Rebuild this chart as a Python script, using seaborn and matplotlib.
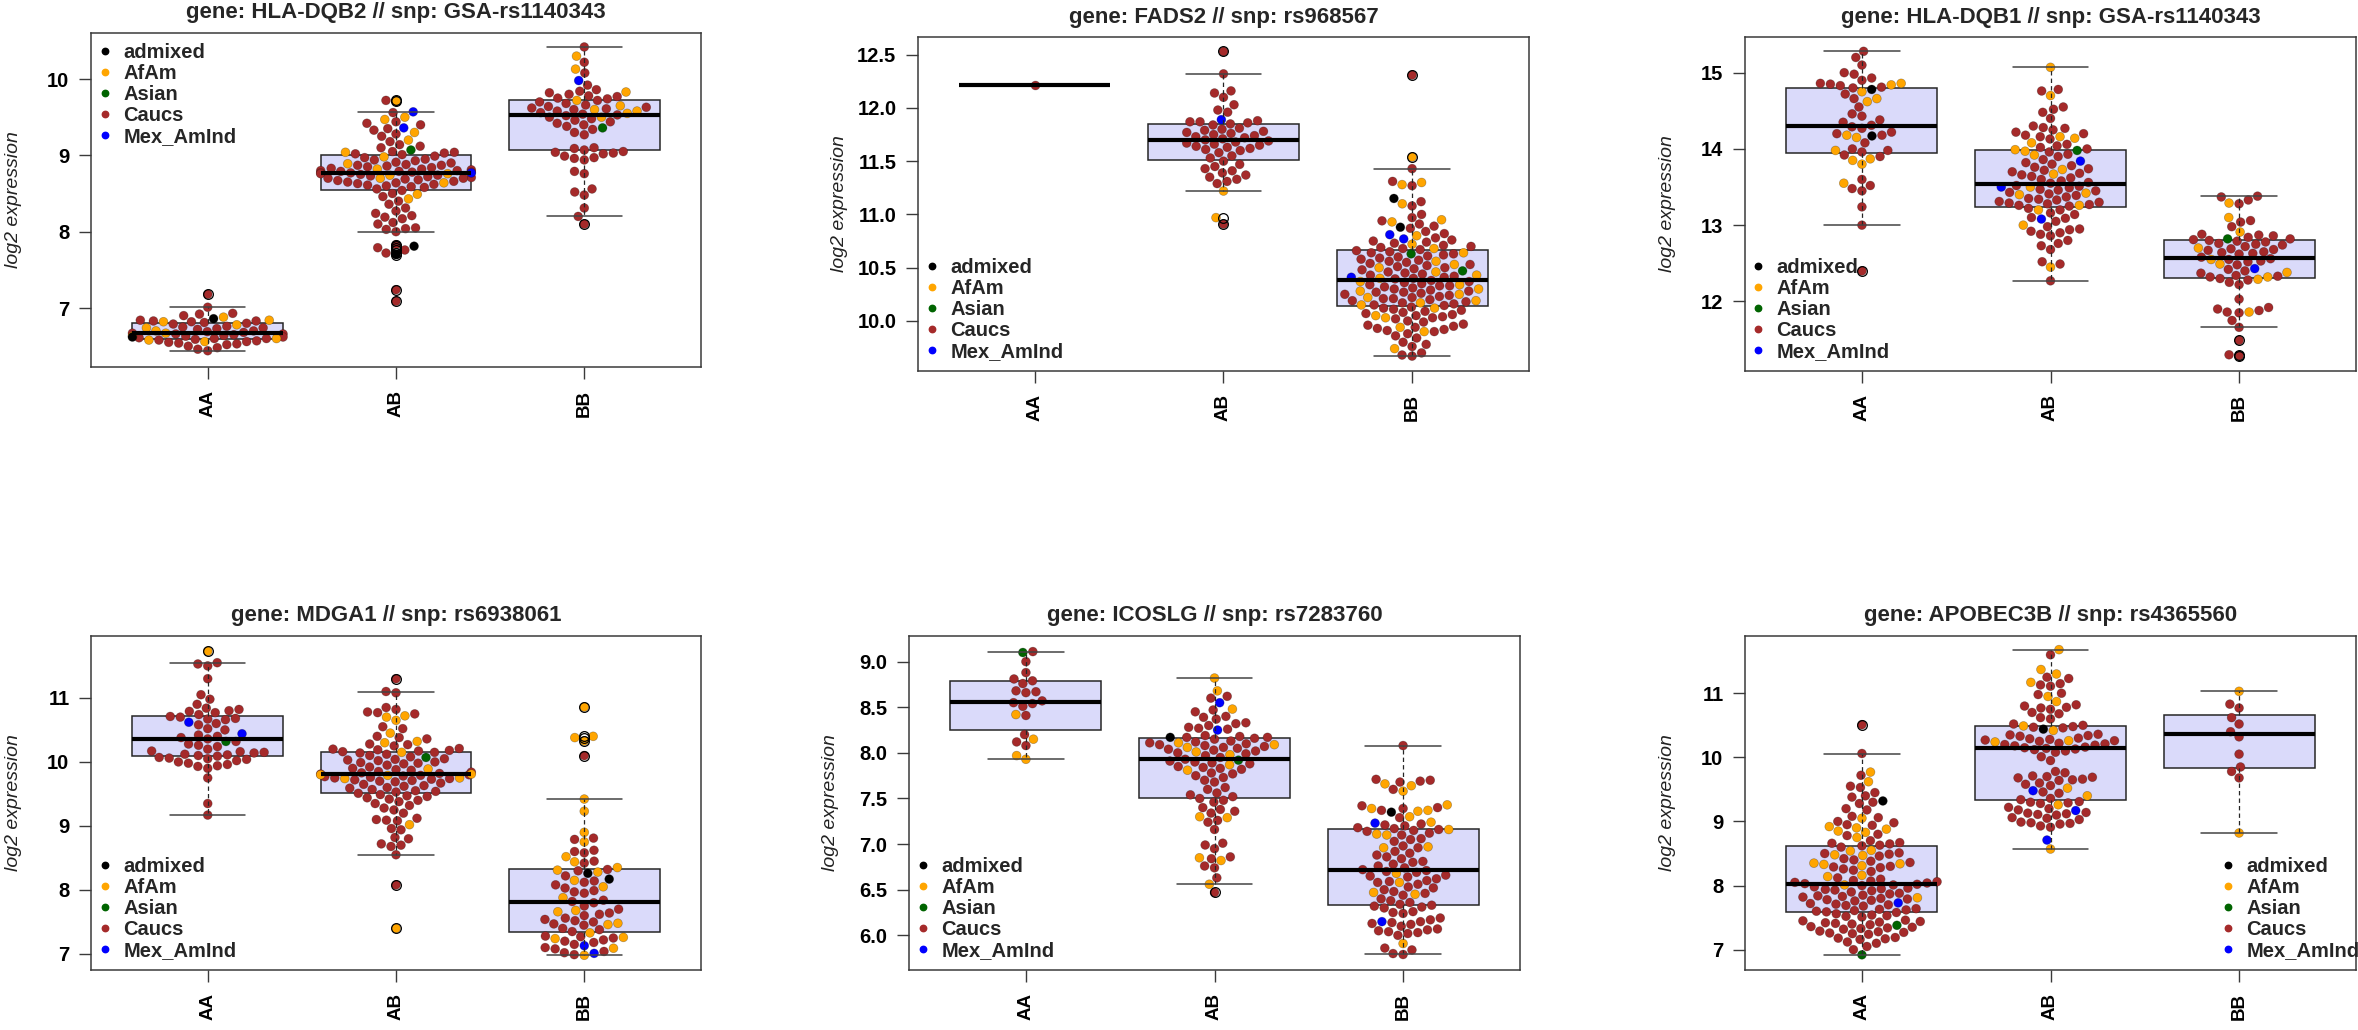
import numpy as np
import pandas as pd
import matplotlib
matplotlib.use("Agg")
import matplotlib.pyplot as plt
from matplotlib.lines import Line2D
import seaborn as sns

sns.set_theme(style="white")
plt.rcParams['font.family'] = ['Liberation Sans', 'DejaVu Sans']

# ---------------- data ----------------
GENOTYPES = ["AA", "AB", "BB"]
POPS = ["admixed", "AfAm", "Asian", "Caucs", "Mex_AmInd"]
POP_COLORS = {"admixed": "#000000", "AfAm": "#FFA500", "Asian": "#006400",
              "Caucs": "#A52A2A", "Mex_AmInd": "#0000FF"}

# Panel 1: HLA-DQB2 // GSA-rs1140343
HLA_DQB2_AA = {
    "Caucs": [7.18, 7.01, 6.93, 6.92, 6.90, 6.84, 6.83, 6.83, 6.82, 6.81, 6.80, 6.79, 6.76, 6.75, 6.74, 6.73,
              6.72, 6.70, 6.69, 6.68, 6.67, 6.66, 6.66, 6.65, 6.64, 6.63, 6.62, 6.61, 6.60, 6.60, 6.59, 6.58,
              6.57, 6.56, 6.55, 6.54, 6.53, 6.52, 6.50, 6.48, 6.46, 6.44],
    "AfAm": [6.88, 6.84, 6.82, 6.78, 6.74, 6.70, 6.67, 6.63, 6.60, 6.58, 6.56],
    "admixed": [6.86, 6.62],
}
HLA_DQB2_AB = {
    "Caucs": [9.72, 9.56, 9.44, 9.42, 9.40, 9.35, 9.33, 9.28, 9.25, 9.18, 9.14, 9.12, 9.10, 9.05, 9.04, 9.03,
              9.02, 9.01, 8.99, 8.97, 8.95, 8.94, 8.93, 8.91, 8.90, 8.88, 8.87, 8.87, 8.86, 8.85, 8.84, 8.83,
              8.82, 8.81, 8.80, 8.80, 8.79, 8.79, 8.78, 8.78, 8.77, 8.77, 8.76, 8.75, 8.74, 8.73, 8.72, 8.71,
              8.70, 8.70, 8.69, 8.68, 8.67, 8.66, 8.65, 8.64, 8.63, 8.62, 8.61, 8.60, 8.59, 8.58, 8.56, 8.54,
              8.50, 8.46, 8.40, 8.36, 8.31, 8.27, 8.24, 8.21, 8.19, 8.17, 8.12, 8.10, 8.05, 8.04, 8.03, 8.00,
              7.83, 7.79, 7.76, 7.72, 7.24, 7.09],
    "AfAm": [9.71, 9.50, 9.47, 9.30, 9.20, 9.04, 8.98, 8.89, 8.82, 8.76, 8.74, 8.70, 8.64, 8.49, 8.43],
    "Asian": [9.07],
    "Mex_AmInd": [9.57, 9.36, 8.77],
    "admixed": [7.81, 7.70],
}
HLA_DQB2_BB = {
    "Caucs": [10.42, 10.22, 10.08, 9.92, 9.86, 9.84, 9.82, 9.80, 9.78, 9.77, 9.75, 9.74, 9.72, 9.70, 9.68,
              9.66, 9.64, 9.63, 9.62, 9.61, 9.60, 9.58, 9.56, 9.54, 9.53, 9.52, 9.50, 9.48, 9.46, 9.44, 9.42,
              9.40, 9.38, 9.34, 9.30, 9.27, 9.10, 9.09, 9.07, 9.05, 9.04, 9.03, 9.02, 8.99, 8.97, 8.96, 8.94,
              8.79, 8.76, 8.56, 8.52, 8.48, 8.31, 8.20, 8.10],
    "AfAm": [10.30, 10.13, 9.83, 9.72, 9.65, 9.60, 9.58, 9.55, 9.50],
    "Asian": [9.36],
    "Mex_AmInd": [9.98],
}
HLA_DQB2_TICKS = [7, 8, 9, 10]

# Panel 2: FADS2 // rs968567
FADS2_AA = {"Caucs": [12.22]}
FADS2_AB = {
    "Caucs": [12.53, 12.32, 12.16, 12.14, 12.10, 12.03, 11.98, 11.96, 11.88, 11.87, 11.87, 11.86, 11.85, 11.84,
              11.81, 11.80, 11.79, 11.78, 11.77, 11.76, 11.75, 11.74, 11.73, 11.72, 11.71, 11.70, 11.69, 11.68,
              11.67, 11.66, 11.65, 11.64, 11.63, 11.62, 11.61, 11.60, 11.58, 11.55, 11.53, 11.50, 11.47, 11.45,
              11.43, 11.41, 11.39, 11.37, 11.35, 11.33, 11.31, 11.29, 10.91],
    "AfAm": [11.22, 10.97],
    "Mex_AmInd": [11.89],
}
FADS2_BB = {
    "Caucs": [12.31, 11.43, 11.31, 11.27, 11.12, 11.08, 11.00, 10.97, 10.94, 10.91, 10.89, 10.87, 10.84, 10.82,
              10.78, 10.76, 10.75, 10.74, 10.73, 10.71, 10.70, 10.69, 10.68, 10.67,
              10.66, 10.65, 10.64, 10.63, 10.62, 10.61, 10.60, 10.59, 10.58, 10.57, 10.56, 10.55, 10.54, 10.53,
              10.52, 10.51, 10.50, 10.49, 10.48, 10.46, 10.45, 10.44, 10.43, 10.42, 10.41, 10.40, 10.395,
              10.38, 10.37, 10.36, 10.35, 10.34, 10.33, 10.33, 10.32, 10.31, 10.30, 10.29, 10.28, 10.27, 10.27,
              10.26, 10.25, 10.24, 10.23, 10.22, 10.21, 10.21, 10.20, 10.19, 10.18, 10.17, 10.16, 10.15, 10.145,
              10.13, 10.12, 10.11, 10.10, 10.09, 10.08, 10.07, 10.06, 10.05, 10.04, 10.03, 10.02, 10.00, 9.99,
              9.97, 9.96, 9.95, 9.94, 9.93, 9.92, 9.91, 9.90, 9.88, 9.86, 9.84, 9.80, 9.78, 9.76, 9.70, 9.68, 9.67],
    "AfAm": [11.54, 11.30, 11.28, 11.10, 10.95, 10.93, 10.80, 10.72, 10.68, 10.64, 10.56, 10.53, 10.50, 10.46,
             10.43, 10.40, 10.37, 10.34, 10.30, 10.28, 10.25, 10.22, 10.19, 10.17, 10.15, 10.12, 10.05, 10.03,
             9.94, 9.90, 9.74],
    "admixed": [11.15, 10.88],
    "Asian": [10.63, 10.47],
    "Mex_AmInd": [10.81, 10.77, 10.41],
}
FADS2_TICKS = [10.0, 10.5, 11.0, 11.5, 12.0, 12.5]

# Panel 3: HLA-DQB1 // GSA-rs1140343
HLA_DQB1_AA = {
    "Caucs": [15.28, 15.20, 15.10, 15.00, 14.98, 14.93, 14.90, 14.86, 14.85, 14.83, 14.81, 14.80, 14.72, 14.66,
              14.55, 14.46, 14.43, 14.38, 14.35, 14.31, 14.29, 14.27, 14.22, 14.20, 14.18, 14.08, 14.00, 13.98,
              13.96, 13.92, 13.90, 13.60, 13.52, 13.48, 13.45, 13.24, 13.00, 12.40],
    "AfAm": [14.86, 14.84, 14.75, 14.66, 14.62, 14.18, 14.15, 13.98, 13.87, 13.85, 13.80, 13.55],
    "admixed": [14.78, 14.17],
}
HLA_DQB1_AB = {
    "Caucs": [14.78, 14.76, 14.55, 14.52, 14.48, 14.40, 14.30, 14.28, 14.27, 14.25, 14.22, 14.20, 14.18, 14.16,
              14.13, 14.06, 14.04, 14.02, 14.00, 13.96, 13.93, 13.90, 13.86, 13.82, 13.80, 13.78, 13.76, 13.74,
              13.72, 13.70, 13.68, 13.66, 13.64, 13.62, 13.60, 13.58, 13.56, 13.55, 13.52, 13.51, 13.49, 13.47,
              13.46, 13.45, 13.43, 13.41, 13.39, 13.37, 13.35, 13.34, 13.33, 13.31, 13.30, 13.29, 13.28, 13.27,
              13.26, 13.25, 13.22, 13.20, 13.16, 13.14, 13.10, 13.09, 13.05, 12.98, 12.95, 12.94, 12.92, 12.90,
              12.88, 12.86, 12.80, 12.76, 12.73, 12.68, 12.52, 12.49, 12.27],
    "AfAm": [15.07, 14.70, 14.16, 14.14, 14.08, 13.99, 13.97, 13.92, 13.73, 13.67, 13.50, 13.42, 13.40, 13.26,
             13.20, 13.00, 12.45],
    "Asian": [13.98],
    "Mex_AmInd": [13.84, 13.50, 13.08],
}
HLA_DQB1_BB = {
    "Caucs": [13.38, 13.37, 13.33, 13.28, 13.06, 13.04, 12.98, 12.88, 12.87, 12.86, 12.84, 12.82, 12.81, 12.80,
              12.79, 12.78, 12.76, 12.75, 12.74, 12.72, 12.69, 12.68, 12.67, 12.65, 12.64, 12.63, 12.62, 12.58,
              12.56, 12.55, 12.53, 12.52, 12.48, 12.42, 12.40, 12.37, 12.34, 12.32, 12.30, 12.28, 12.25, 12.22,
              12.33, 12.03, 11.92, 11.90, 11.88, 11.86, 11.85, 11.75, 11.66, 11.49, 11.30, 11.29],
    "AfAm": [13.29, 13.10, 12.91, 12.70, 12.55, 12.49, 12.38, 12.32, 12.29, 11.86],
    "Asian": [12.82],
    "Mex_AmInd": [12.43],
}
HLA_DQB1_TICKS = [12, 13, 14, 15]

# Panel 4: MDGA1 // rs6938061
MDGA1_AA = {
    "Caucs": [11.55, 11.53, 11.50, 11.30, 11.05, 10.98, 10.90, 10.84, 10.82, 10.80, 10.79, 10.77, 10.74, 10.71,
              10.70, 10.68, 10.67, 10.66, 10.60, 10.58, 10.52, 10.50, 10.42, 10.40, 10.38, 10.36, 10.32, 10.28,
              10.26, 10.24, 10.20, 10.17, 10.16, 10.15, 10.14, 10.12, 10.11, 10.10, 10.09, 10.07, 10.06, 10.05,
              10.04, 10.02, 10.00, 9.98, 9.96, 9.94, 9.93, 9.90, 9.75, 9.35, 9.17],
    "AfAm": [11.73],
    "Asian": [10.32],
    "Mex_AmInd": [10.62, 10.44],
}
MDGA1_AB = {
    "Caucs": [11.30, 11.10, 11.08, 10.85, 10.82, 10.78, 10.77, 10.75, 10.55, 10.52, 10.40, 10.38, 10.36, 10.28,
              10.27, 10.25, 10.21, 10.20, 10.19, 10.18, 10.17, 10.16, 10.15, 10.14, 10.12, 10.10, 10.08, 10.05,
              10.04, 10.03, 10.02, 10.00, 9.99, 9.98, 9.97, 9.95, 9.92, 9.90, 9.88, 9.87, 9.85, 9.84, 9.83, 9.82,
              9.81, 9.80, 9.79, 9.78, 9.77, 9.76, 9.75, 9.74, 9.73, 9.72, 9.71, 9.70, 9.69, 9.67, 9.65, 9.63,
              9.62, 9.60, 9.59, 9.57, 9.55, 9.54, 9.53, 9.51, 9.49, 9.47, 9.46, 9.44, 9.42, 9.40, 9.38, 9.35,
              9.32, 9.28, 9.25, 9.20, 9.12, 9.10, 9.09, 9.08, 8.96, 8.94, 8.82, 8.80, 8.72, 8.70, 8.68, 8.55, 8.08],
    "AfAm": [10.72, 10.70, 10.65, 10.45, 10.32, 10.30, 10.15, 9.89, 9.81, 9.80, 9.79, 9.75, 9.74, 9.02, 7.40],
    "Asian": [10.07],
}
MDGA1_BB = {
    "Caucs": [10.10, 8.81, 8.79, 8.62, 8.60, 8.58, 8.45, 8.42, 8.32, 8.30, 8.22, 8.14, 8.12, 8.08, 8.03, 7.99,
              7.97, 7.95, 7.84, 7.82, 7.80, 7.75, 7.70, 7.64, 7.62, 7.60, 7.56, 7.54, 7.52, 7.50, 7.47, 7.45,
              7.40, 7.38, 7.35, 7.28, 7.27, 7.25, 7.22, 7.20, 7.18, 7.15, 7.10, 7.08, 7.04, 7.02, 6.99],
    "AfAm": [10.86, 10.40, 10.38, 10.33, 9.42, 9.23, 8.90, 8.75, 8.52, 8.44, 8.35, 8.31, 8.28, 8.15, 8.05, 7.88,
             7.68, 7.66, 7.48, 7.46, 7.33, 7.26, 7.24, 7.09, 6.98],
    "admixed": [8.26, 8.17],
    "Mex_AmInd": [7.13, 7.01],
}
MDGA1_TICKS = [7, 8, 9, 10, 11]

# Panel 5: ICOSLG // rs7283760
ICOSLG_AA = {
    "Caucs": [9.11, 9.00, 8.88, 8.81, 8.79, 8.76, 8.68, 8.67, 8.66, 8.57, 8.55, 8.54, 8.51, 8.41, 8.20, 8.12, 8.08],
    "AfAm": [8.42, 8.15, 7.97, 7.93],
    "Asian": [9.10],
}
ICOSLG_AB = {
    "Caucs": [8.62, 8.60, 8.47, 8.45, 8.40, 8.39, 8.37, 8.33, 8.32, 8.30, 8.28, 8.27, 8.26, 8.19, 8.18, 8.17,
              8.17, 8.16, 8.15, 8.13, 8.12, 8.11, 8.10, 8.09, 8.08, 8.07, 8.06, 8.05, 8.04, 8.03, 8.02, 8.00,
              7.99, 7.97, 7.95, 7.93, 7.91, 7.90, 7.89, 7.88, 7.85, 7.84, 7.83, 7.82, 7.78, 7.77, 7.75, 7.73,
              7.70, 7.68, 7.62, 7.60, 7.56, 7.54, 7.48, 7.46, 7.40, 7.38, 7.36, 7.34, 7.26, 7.24, 7.16, 7.50,
              7.52, 7.01, 6.99, 6.95, 6.86, 6.84, 6.76, 6.74, 6.63, 6.47],
    "AfAm": [8.82, 8.68, 8.48, 8.11, 8.09, 8.06, 8.01, 7.98, 7.87, 7.81, 7.30, 7.29, 6.85, 6.82, 6.56],
    "Asian": [7.92],
    "Mex_AmInd": [8.55, 8.25],
    "admixed": [8.17],
}
ICOSLG_BB = {
    "Caucs": [8.08, 7.71, 7.70, 7.69, 7.68, 7.60, 7.42, 7.40, 7.39, 7.37, 7.29, 7.22, 7.21, 7.20, 7.18, 7.17,
              7.16, 7.15, 7.14, 7.12, 7.10, 7.06, 7.05, 7.03, 6.98, 6.96, 6.92, 6.90, 6.88, 6.86, 6.84, 6.81,
              6.80, 6.78, 6.76, 6.74, 6.72, 6.71, 6.70, 6.69, 6.66, 6.65, 6.64, 6.62, 6.60, 6.59, 6.58, 6.56,
              6.53, 6.52, 6.50, 6.48, 6.46, 6.44, 6.40, 6.38, 6.36, 6.34, 6.33, 6.32, 6.31, 6.30, 6.26, 6.25,
              6.24, 6.19, 6.17, 6.15, 6.14, 6.13, 6.12, 6.10, 6.07, 6.06, 6.05, 6.04, 6.03, 6.02, 6.00, 5.86,
              5.84, 5.80, 5.79],
    "AfAm": [7.66, 7.64, 7.58, 7.43, 7.39, 7.37, 7.36, 7.30, 7.24, 7.16, 7.11, 7.10, 6.97, 6.96, 6.68, 6.58,
             6.47, 6.45, 5.91],
    "admixed": [7.35],
    "Mex_AmInd": [7.23, 6.15],
}
ICOSLG_TICKS = [6.0, 6.5, 7.0, 7.5, 8.0, 8.5, 9.0]

# Panel 6: APOBEC3B // rs4365560
APOBEC3B_AA = {
    "Caucs": [10.51, 10.06, 9.72, 9.55, 9.53, 9.45, 9.40, 9.38, 9.30, 9.28, 9.20, 9.18, 9.08, 9.06, 9.00, 8.98,
              8.95, 8.94, 8.80, 8.78, 8.70, 8.66, 8.63, 8.62, 8.60, 8.67, 8.65, 8.51, 8.50, 8.49, 8.46, 8.42,
              8.40, 8.38, 8.36, 8.30, 8.29, 8.28, 8.26, 8.24, 8.22, 8.12, 8.10, 8.08, 8.07, 8.06, 8.05, 8.04,
              8.03, 8.02, 8.01, 8.00, 7.98, 7.96, 7.95, 7.94, 7.93, 7.92, 7.90, 7.88, 7.87, 7.85, 7.84, 7.83,
              7.82, 7.80, 7.79, 7.78, 7.77, 7.76, 7.72, 7.71, 7.70, 7.69, 7.68, 7.64, 7.63, 7.62, 7.61, 7.60,
              7.59, 7.58, 7.56, 7.54, 7.53, 7.52, 7.51, 7.46, 7.45, 7.44, 7.43, 7.42, 7.41, 7.40, 7.39, 7.36,
              7.35, 7.34, 7.33, 7.32, 7.29, 7.28, 7.27, 7.26, 7.25, 7.24, 7.19, 7.18, 7.17, 7.16, 7.12, 7.10,
              7.05, 7.00],
    "AfAm": [9.77, 9.62, 9.05, 8.92, 8.90, 8.88, 8.85, 8.83, 8.75, 8.55, 8.54, 8.48, 8.47, 8.35, 8.34, 8.33,
             8.31, 8.16, 8.14, 8.01, 7.81],
    "admixed": [9.32],
    "Mex_AmInd": [7.73],
    "Asian": [7.38, 6.92],
}
APOBEC3B_AB = {
    "Caucs": [11.60, 11.25, 11.23, 11.15, 11.13, 11.11, 11.00, 10.98, 10.82, 10.80, 10.78, 10.77, 10.75, 10.70,
              10.68, 10.62, 10.60, 10.52, 10.50, 10.48, 10.47, 10.46, 10.36, 10.35, 10.34, 10.33, 10.30, 10.29,
              10.28, 10.27, 10.26, 10.25, 10.22, 10.21, 10.20, 10.19, 10.18, 10.16, 10.15, 10.14, 10.13, 10.12,
              10.10, 10.08, 10.01, 9.95, 9.78, 9.76, 9.71, 9.70, 9.69, 9.68, 9.66, 9.65, 9.64, 9.60, 9.58, 9.56,
              9.46, 9.44, 9.36, 9.34, 9.31, 9.30, 9.29, 9.28, 9.22, 9.20, 9.18, 9.14, 9.13, 9.12, 9.11, 9.10,
              9.06, 9.05, 9.03, 8.99, 8.98, 8.97, 8.96, 8.93, 8.91],
    "AfAm": [11.68, 11.37, 11.30, 11.17, 10.95, 10.87, 10.49, 10.42, 10.26, 10.24, 9.52, 9.40, 9.26, 8.57],
    "admixed": [10.44],
    "Mex_AmInd": [9.48, 9.17, 8.71],
}
APOBEC3B_BB = {
    "Caucs": [10.83, 10.77, 10.62, 10.52, 10.40, 10.32, 10.05, 9.85, 9.78, 9.68],
    "AfAm": [11.03, 8.82],
}
APOBEC3B_TICKS = [7, 8, 9, 10, 11]

TITLES = ["gene: HLA-DQB2 // snp: GSA-rs1140343", "gene: FADS2 // snp: rs968567",
          "gene: HLA-DQB1 // snp: GSA-rs1140343", "gene: MDGA1 // snp: rs6938061",
          "gene: ICOSLG // snp: rs7283760", "gene: APOBEC3B // snp: rs4365560"]
GROUPS = [[HLA_DQB2_AA, HLA_DQB2_AB, HLA_DQB2_BB], [FADS2_AA, FADS2_AB, FADS2_BB],
          [HLA_DQB1_AA, HLA_DQB1_AB, HLA_DQB1_BB], [MDGA1_AA, MDGA1_AB, MDGA1_BB],
          [ICOSLG_AA, ICOSLG_AB, ICOSLG_BB], [APOBEC3B_AA, APOBEC3B_AB, APOBEC3B_BB]]
TICKS = [HLA_DQB2_TICKS, FADS2_TICKS, HLA_DQB1_TICKS, MDGA1_TICKS, ICOSLG_TICKS, APOBEC3B_TICKS]
TICK_FMT = ["{:.0f}", "{:.1f}", "{:.0f}", "{:.0f}", "{:.1f}", "{:.0f}"]

# ---------------- layout (pixels) ----------------
W, H = 2358, 1030
FRAMES = [(91, 33, 701, 367), (918, 37, 1529, 371), (1745, 37, 2356, 371),
          (91, 636, 701, 970), (909, 636, 1520, 970), (1745, 636, 2356, 970)]
YLIMS = [(6.227, 10.603), (9.53, 12.666), (11.087, 15.468),
         (6.75, 11.967), (5.62, 9.281), (6.683, 11.893)]
# (loc, x offset from frame left px, y offset from frame top/bottom px)
LEGENDS = [("upper left", 8, 10), ("lower left", 8, 10), ("lower left", 7, 10),
           ("lower left", 8, 10), ("lower left", 8, 10), ("lower left", 477, 10)]

BOX_FILL = "#DADAFA"
FRAME_COL = "#3a3a3a"

fig = plt.figure(figsize=(W / 100, H / 100), dpi=100)
fig.patch.set_facecolor("white")


def to_df(groups):
    rows = []
    for g, d in zip(GENOTYPES, groups):
        for pop, vals in d.items():
            for v in vals:
                rows.append((g, pop, v))
    return pd.DataFrame(rows, columns=["genotype", "pop", "expr"])


for i in range(6):
    l, t, r, b = FRAMES[i]
    ax = fig.add_axes([l / W, 1 - b / H, (r - l) / W, (b - t) / H])
    df = to_df(GROUPS[i])

    sns.boxplot(data=df, x="genotype", y="expr", order=GENOTYPES, ax=ax,
                color=BOX_FILL, saturation=1, width=0.8, linecolor="#262626", linewidth=1.1,
                whiskerprops=dict(linestyle=(0, (3.5, 2.5)), linewidth=0.9, color="#262626"),
                capprops=dict(linewidth=1.1, color="#444444"),
                medianprops=dict(color="black", linewidth=3.0),
                flierprops=dict(marker="o", markerfacecolor="none", markeredgecolor="black",
                                markersize=7.0, markeredgewidth=0.9))
    sns.swarmplot(data=df, x="genotype", y="expr", hue="pop", order=GENOTYPES, hue_order=POPS,
                  palette=POP_COLORS, size=6.4, linewidth=0.5, edgecolor=(0, 0, 0, 0.3),
                  legend=False, ax=ax, zorder=3, warn_thresh=1.0)
    for ln in ax.lines:
        ln.set_zorder(4)

    ax.set_xlim(-0.62, 2.62)
    ax.set_ylim(*YLIMS[i])
    ax.set_xlabel("")
    ax.set_ylabel("")
    ax.set_yticks(TICKS[i])
    ax.set_yticklabels([TICK_FMT[i].format(v) for v in TICKS[i]], fontsize=14.5, fontweight="bold")
    ax.set_xticks(range(3))
    ax.set_xticklabels(GENOTYPES, rotation=90, fontsize=13.5, fontweight="bold")
    ax.tick_params(axis="both", direction="out", length=8.5, width=1.0, color=FRAME_COL,
                   labelcolor="black", left=True, bottom=True)
    ax.tick_params(axis="y", pad=7)
    ax.tick_params(axis="x", pad=8)
    for sp in ax.spines.values():
        sp.set_visible(True)
        sp.set_color(FRAME_COL)
        sp.set_linewidth(1.1)

    wpx, hpx = r - l, b - t
    ax.text(0.5, 1 + 20 / hpx, TITLES[i], transform=ax.transAxes, ha="center", va="center",
            fontsize=16, fontweight="bold")
    ax.text(-78 / wpx, 0.5, "log2 expression", transform=ax.transAxes, rotation=90,
            ha="center", va="center", fontsize=14, style="italic", color="#222222")

    loc, xo, yo = LEGENDS[i]
    handles = [Line2D([0], [0], marker="o", linestyle="none", markersize=4.6,
                      markerfacecolor=POP_COLORS[p], markeredgecolor=POP_COLORS[p]) for p in POPS]
    if loc == "upper left":
        anchor = (xo / wpx, 1 - yo / hpx)
    else:
        anchor = (xo / wpx, yo / hpx)
    ax.legend(handles, POPS, loc=loc, bbox_to_anchor=anchor, frameon=False,
              prop=dict(weight="bold", size=14.5), handlelength=0.6, handletextpad=0.6,
              labelspacing=0.1, borderpad=0, borderaxespad=0)

fig.savefig("out.png", dpi=100)
